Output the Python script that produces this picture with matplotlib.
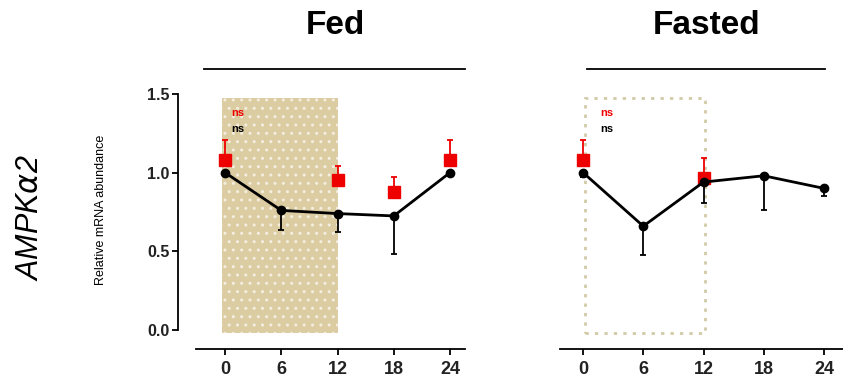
import matplotlib.pyplot as plt
import numpy as np

plt.rcParams['font.family'] = ['Liberation Sans', 'DejaVu Sans']

hours = [0, 6, 12, 18, 24]

# Fed
fed_black = [1.00, 0.76, 0.74, 0.725, 1.00]
fed_black_low = [0.02, 0.125, 0.12, 0.24, 0.02]
fed_red_x = [0, 12, 18, 24]
fed_red = [1.08, 0.95, 0.875, 1.08]
fed_red_up = [0.13, 0.09, 0.095, 0.13]

# Fasted
fast_black = [1.00, 0.66, 0.94, 0.98, 0.90]
fast_black_low = [0.03, 0.18, 0.13, 0.22, 0.05]
fast_red_x = [0, 12]
fast_red = [1.08, 0.965]
fast_red_up = [0.13, 0.125]

tan = '#dccca2'
W, H = 843, 381
fig = plt.figure(figsize=(8.43, 3.81), dpi=100)


def ax_at(x0, x1, y0, y1):
    return fig.add_axes([x0 / W, 1 - y1 / H, (x1 - x0) / W, (y1 - y0) / H])


ax1 = ax_at(196, 465, 86, 349)
ax2 = ax_at(560, 843, 86, 349)

for ax, xl in [(ax1, (-3.1, 25.6)), (ax2, (-2.3, 25.9))]:
    ax.set_xlim(*xl)
    ax.set_ylim(-0.12, 1.55)
    ax.patch.set_alpha(0)
    for s in ['top', 'right']:
        ax.spines[s].set_visible(False)
    ax.spines['bottom'].set_linewidth(1.3)
    ax.set_xticks(hours)
    ax.set_xticklabels([str(h) for h in hours], fontsize=13, fontweight='bold',
                       color='#222222')
    ax.tick_params(axis='x', length=4, width=1.3, pad=5)

# left y axis
ax1.spines['left'].set_position(('data', -5.0))
ax1.spines['left'].set_bounds(0, 1.5)
ax1.spines['left'].set_linewidth(1.3)
ax1.set_yticks([0, 0.5, 1.0, 1.5])
ax1.set_yticklabels(['0.0', '0.5', '1.0', '1.5'], fontsize=11.5, fontweight='bold',
                    color='#222222')
ax1.tick_params(axis='y', length=4, width=1.3, pad=2)
ax2.spines['left'].set_visible(False)
ax2.set_yticks([])

# shaded / dotted windows
ax1.add_patch(plt.Rectangle((-0.3, -0.02), 12.4, 1.495, facecolor=tan,
                            edgecolor='none', zorder=0))
ax1.add_patch(plt.Rectangle((-0.3, -0.02), 12.4, 1.495, facecolor='none',
                            edgecolor='#f4eee0', hatch='..', linewidth=0, zorder=0.5))
ax2.add_patch(plt.Rectangle((0.2, -0.02), 11.9, 1.495, facecolor='none',
                            edgecolor='#d2cba8', linestyle=(0, (1.2, 2.2)),
                            linewidth=2.0, zorder=0))

for ax, bv, bl, rx, rv, ru, nsx in [
        (ax1, fed_black, fed_black_low, fed_red_x, fed_red, fed_red_up, 0.7),
        (ax2, fast_black, fast_black_low, fast_red_x, fast_red, fast_red_up, 1.7)]:
    ax.errorbar(rx, rv, yerr=[np.zeros(len(ru)), ru], fmt='s', color='#ee0000',
                ms=9, capsize=2, elinewidth=1.3, capthick=1.3, zorder=3)
    ax.errorbar(hours, bv, yerr=[bl, np.zeros(len(bl))], fmt='-o', color='black',
                ms=6, lw=2, capsize=2, elinewidth=1.3, capthick=1.3, zorder=4)
    ax.text(nsx, 1.38, 'ns', color='#ee0000', fontsize=8, fontweight='bold', va='center')
    ax.text(nsx, 1.28, 'ns', color='black', fontsize=8, fontweight='bold', va='center')

# titles and bars
fig.text(335 / W, 1 - 25 / H, 'Fed', ha='center', va='center', fontsize=24, fontweight='bold')
fig.text(707 / W, 1 - 25 / H, 'Fasted', ha='center', va='center', fontsize=24, fontweight='bold')
fig.add_artist(plt.Line2D([204 / W, 465 / W], [1 - 69 / H] * 2, color='black', lw=1.3))
fig.add_artist(plt.Line2D([587 / W, 825 / W], [1 - 69 / H] * 2, color='black', lw=1.3))

fig.text(30 / W, 1 - 218 / H, r'AMPK$\alpha$2', rotation=90, ha='center', va='center',
         fontsize=22, style='italic')
fig.text(101 / W, 1 - 210 / H, 'Relative mRNA abundance', rotation=90, ha='center',
         va='center', fontsize=9)

fig.savefig('out.png', dpi=100)
